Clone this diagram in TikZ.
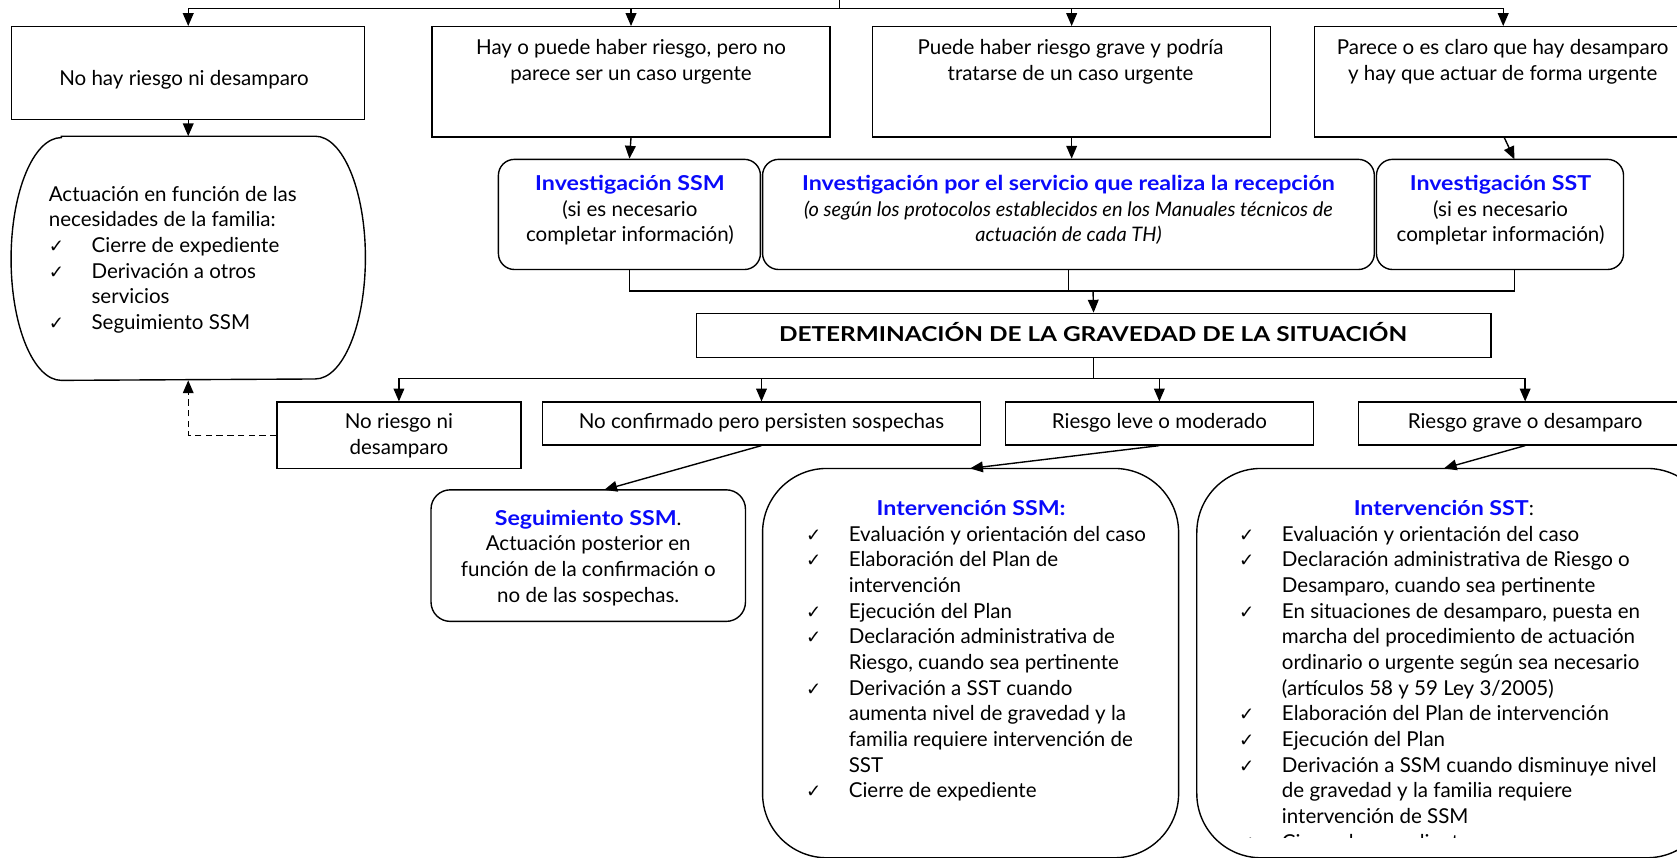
\documentclass[tikz,border=0pt]{standalone}
\usepackage{fontspec}
\usepackage{graphicx}
\setmainfont{Lato}[BoldFeatures={FakeStretch=1.13}]
\newfontfamily\symf{DejaVu Sans}
\usetikzlibrary{arrows.meta,calc}
\definecolor{tblue}{RGB}{10,10,250}
\newcommand{\ck}{\makebox[40pt][l]{\symf\fontsize{17}{24}\selectfont ✓}}
\newcommand{\ind}{\hspace*{40pt}}
\begin{document}
\begin{tikzpicture}[x=1pt,y=-1pt,line width=1.3pt,
  sq/.style={draw,rectangle,inner sep=0pt},
  rd/.style={draw,rectangle,rounded corners=15pt,inner sep=0pt},
  txt/.style={inner sep=0pt,font=\fontsize{19.2}{24}\selectfont,align=center},
  lst/.style={inner sep=0pt,font=\fontsize{19.2}{24}\selectfont,align=left,anchor=base west},
  arr/.style={-{Triangle[length=12pt,width=10pt]}}]
\clip (0,0) rectangle (1568,802);
% ---------- row 1
\coordinate (top) at (785,0);
\coordinate (topj) at (785,8);
\node[sq,minimum width=330pt,minimum height=87pt] (A) at (176,68.5) {};
\node[sq,minimum width=372pt,minimum height=103pt] (B) at (590,76.5) {};
\node[sq,minimum width=372pt,minimum height=103pt] (C) at (1002,76.5) {};
\node[sq,minimum width=353pt,minimum height=103pt] (D) at (1405.5,76.5) {};
\node[txt,anchor=base] (tA) at (172,80) {No hay riesgo ni desamparo};
\node[txt,anchor=base] (tB) at (590,75) {Hay o puede haber riesgo, pero no\\parece ser un caso urgente};
\node[txt,anchor=base] (tC) at (1001,75) {Puede haber riesgo grave y podría\\tratarse de un caso urgente};
\node[txt,anchor=base] (tD) at (1405,75) {Parece o es claro que hay desamparo\\y hay que actuar de forma urgente};
\draw (top) -- (topj);
\draw[arr] (topj) -| (A.north);
\draw[arr] (topj) -| (B.north);
\draw[arr] (topj) -| (C.north);
\draw[arr] (topj) -| (D.north);
% ---------- left rounded box
\node[minimum width=330pt,minimum height=227pt,inner sep=0pt] (L) at (176,241.5) {};
\draw ([xshift=47pt]L.north west) -- ([xshift=-47pt]L.north east)
  arc[start angle=90,end angle=-90,x radius=47pt,y radius=113.5pt]
  -- ([xshift=47pt]L.south west)
  arc[start angle=270,end angle=90,x radius=47pt,y radius=113.5pt] -- cycle;
\node[lst] (tL) at (45,308) {Actuación en función de las\\necesidades de la familia:\\\ck Cierre de expediente\\\ck Derivación a otros\\\ind servicios\\\ck Seguimiento SSM};
\draw[arr] (A.south) -- (L.north);
% ---------- row 2
\node[rd,minimum width=245pt,minimum height=103pt] (SSMi) at (588.5,200.5) {};
\node[rd,minimum width=572pt,minimum height=103pt] (REC) at (999,200.5) {};
\node[rd,minimum width=231pt,minimum height=103pt] (SSTi) at (1402.5,200.5) {};
\node[txt,anchor=base] (tSSMi) at (589,226) {\textcolor{tblue}{\bfseries Investigación SSM}\\(si es necesario\\completar información)};
\node[txt,anchor=base] (tREC) at (999,226) {\textcolor{tblue}{\bfseries Investigación por el servicio que realiza la recepción}\\\fontsize{18.7}{24}\selectfont\itshape (o según los protocolos establecidos en los Manuales técnicos de\\\fontsize{18.7}{24}\selectfont\itshape actuación de cada TH)};
\node[txt,anchor=base] (tSSTi) at (1403,226) {\textcolor{tblue}{\bfseries Investigación SST}\\(si es necesario\\completar información)};
\coordinate (SSTin) at (1416,149);
\coordinate (SSTout) at (1416,252);
\draw[arr] (B.south) -- (SSMi.north);
\draw[arr] (C.south) -- (C.south |- REC.north);
\draw[arr] ([xshift=1pt]D.south) -- (SSTin);
\coordinate (j2) at (1022,272);
\draw (SSMi.south) |- (j2) -| (SSTout);
\draw (REC.south) -- (REC.south |- j2);
% ---------- determination
\node[sq,minimum width=743pt,minimum height=41pt] (DET) at (1022.5,313.5) {};
\node[txt,anchor=base,font=\bfseries\fontsize{19.2}{24}\selectfont] (tDET) at (1022,319) {\scalebox{1.05}[1]{DETERMINACIÓN DE LA GRAVEDAD DE LA SITUACIÓN}};
\draw[arr] (j2) -- (DET.north);
\coordinate (j3) at (1022.5,354);
\draw (DET.south) -- (j3);
% ---------- row 3
\node[sq,minimum width=228pt,minimum height=62pt] (NR) at (373,407) {};
\node[sq,minimum width=410pt,minimum height=40pt] (NC) at (712,396) {};
\node[sq,minimum width=288pt,minimum height=40pt] (RL) at (1084,396) {};
\node[sq,minimum width=312pt,minimum height=40pt] (RG) at (1426,396) {};
\node[txt,anchor=base] (tNR) at (373,425) {No riesgo ni\\desamparo};
\node[txt,anchor=base] (tNC) at (712,401) {No confirmado pero persisten sospechas};
\node[txt,anchor=base] (tRL) at (1084,401) {Riesgo leve o moderado};
\node[txt,anchor=base] (tRG) at (1426,401) {Riesgo grave o desamparo};
\draw[arr] (j3) -| (NR.north);
\draw[arr] (j3) -| (NC.north);
\draw[arr] (j3) -| (RL.north);
\draw[arr] (j3) -| (RG.north);
\draw[arr,dash pattern=on 6pt off 4pt] (NR.west) -| (L.south);
% ---------- row 4
\node[rd,rounded corners=18pt,minimum width=294pt,minimum height=123pt] (Seg) at (550,519.5) {};
\node[draw,rectangle,rounded corners=60pt,minimum width=389pt,minimum height=364pt,inner sep=0pt] (ISSM) at (907.5,620) {};
\node[draw,rectangle,rounded corners=60pt,minimum width=481pt,minimum height=364pt,inner sep=0pt] (ISST) at (1359.5,620) {};
\coordinate (SegIn) at (565,458);
\coordinate (ISSMin) at (907,438);
\coordinate (ISSTin) at (1350,438);
\draw[arr] (NC.south) -- (SegIn);
\draw[arr] (RL.south) -- (ISSMin);
\draw[arr] (RG.south) -- (ISSTin);
\node[txt,anchor=base] (tSeg) at (550,563) {\textcolor{tblue}{\bfseries Seguimiento SSM}.\\Actuación posterior en\\función de la confirmación o\\no de las sospechas.};
\node[txt,anchor=base] (tISSM) at (908,482) {\textcolor{tblue}{\bfseries Intervención SSM:}};
\node[lst] (lISSM) at (753,746) {\ck Evaluación y orientación del caso\\\ck Elaboración del Plan de\\\ind intervención\\\ck Ejecución del Plan\\\ck Declaración administrativa de\\\ind Riesgo, cuando sea pertinente\\\ck Derivación a SST cuando\\\ind aumenta nivel de gravedad y la\\\ind familia requiere intervención de\\\ind SST\\\ck Cierre de expediente};
\node[txt,anchor=base] (tISST) at (1350,482) {\textcolor{tblue}{\bfseries Intervención SST}:};
\begin{scope}
\clip (1119,438) rectangle (1600,783);
\node[lst] (lISST) at (1158,794) {\ck Evaluación y orientación del caso\\\ck Declaración administrativa de Riesgo o\\\ind Desamparo, cuando sea pertinente\\\ck En situaciones de desamparo, puesta en\\\ind marcha del procedimiento de actuación\\\ind ordinario o urgente según sea necesario\\\ind (artículos 58 y 59 Ley 3/2005)\\\ck Elaboración del Plan de intervención\\\ck Ejecución del Plan\\\ck Derivación a SSM cuando disminuye nivel\\\ind de gravedad y la familia requiere\\\ind intervención de SSM\\\ck Cierre de expediente};
\end{scope}
\end{tikzpicture}
\end{document}
